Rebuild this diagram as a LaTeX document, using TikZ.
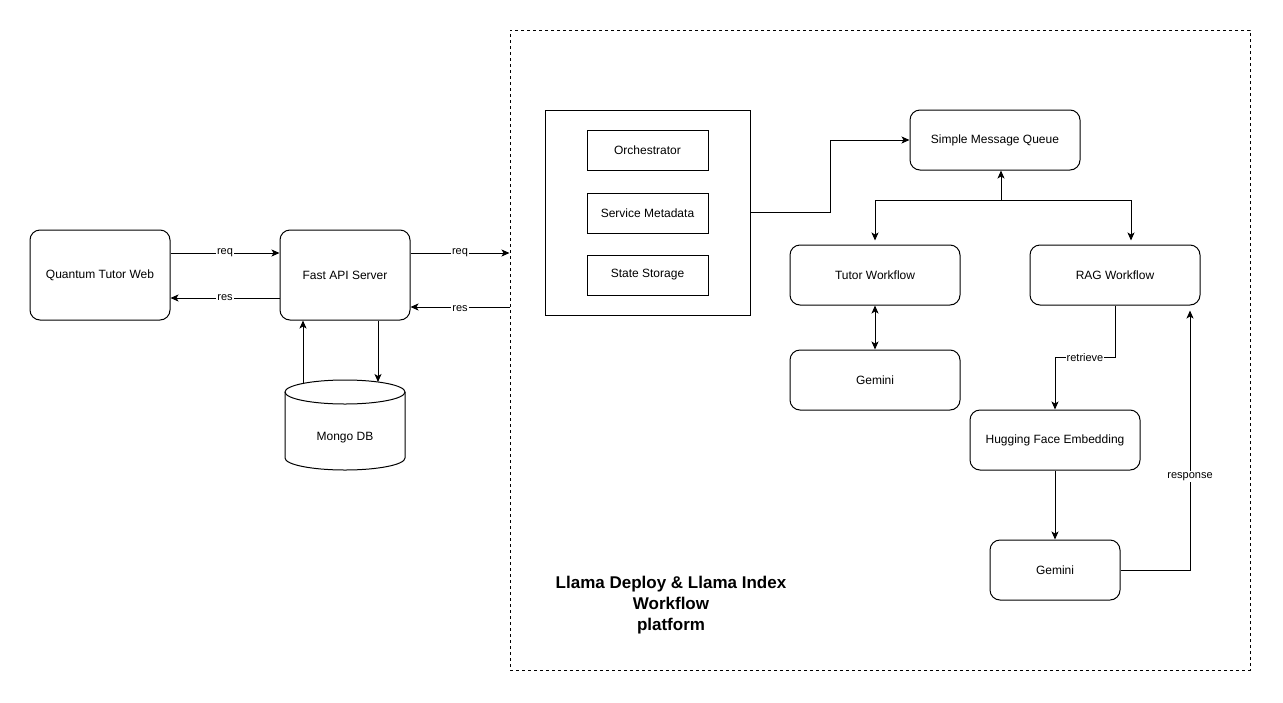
\documentclass[tikz,border=0pt]{standalone}
\usepackage{fontspec}
\setmainfont{Liberation Sans}
\usetikzlibrary{
	arrows,
	arrows.meta,
	positioning
}

\begin{document}
\begin{tikzpicture}[x=1pt, y=-1pt, >={Stealth[length=8pt, width=7pt, inset=2pt]}, line width=1pt,
    box/.style={draw, rounded corners=10pt, align=center, font=\fontsize{12}{14}\selectfont},
    plain/.style={draw, minimum width=121pt, minimum height=40pt, font=\fontsize{12}{14}\selectfont},
    lbl/.style={fill=white, inner sep=1pt, font=\fontsize{11}{13}\selectfont}]
    % Definitions
    \useasboundingbox (0,0) rectangle (1283,702);
    \def \dbx{345}
    \def \dbtop{392}
    \def \dbbottom{458}
    \def \dbrx{60}
    \def \dbry{12}
    %%%
    %%% Client side
    %%%
    \node[box, minimum width=140pt, minimum height=90pt] (web) at (100,275) {Quantum Tutor Web};
    \node[box, minimum width=130pt, minimum height=90pt] (api) at (345,275) {Fast API Server};
    \draw[->] ([yshift=22pt]web.east) -- ([yshift=22pt]api.west) node[lbl, midway] {req};
    \draw[->] ([yshift=-23pt]api.west) -- ([yshift=-23pt]web.east) node[lbl, midway] {res};
    % Mongo cylinder
    \draw (\dbx-\dbrx,\dbtop) -- (\dbx-\dbrx,\dbbottom) arc[start angle=180, end angle=0, x radius=\dbrx, y radius=\dbry] -- (\dbx+\dbrx,\dbtop);
    \draw (\dbx,\dbtop) ellipse [x radius=\dbrx, y radius=\dbry];
    \node[font=\fontsize{12}{14}\selectfont] (mongo) at (\dbx,438) {Mongo DB};
    \coordinate (dbup) at (303,384);
    \coordinate (dbdown) at (378,382);
    \draw[->] (dbup) -- (dbup |- api.south);
    \draw[->] (api.south -| dbdown) -- (dbdown);
    %%%
    %%% Llama platform
    %%%
    \node[draw, dash pattern=on 3pt off 3pt, minimum width=740pt, minimum height=640pt] (platform) at (880,350) {};
    \coordinate (reqout) at ([yshift=22pt]api.east);
    \coordinate (resin) at ([yshift=-32pt]api.east);
    \draw[->] (reqout) -- (reqout -| platform.west) node[lbl, midway] {req};
    \draw[->] (resin -| platform.west) -- (resin) node[lbl, midway, yshift=-2pt] {res};
    % Control plane
    \node[draw, minimum width=205pt, minimum height=205pt] (core) at (647.5,212.5) {};
    \foreach \name/\txt/\y in {orch/Orchestrator/150, meta/Service Metadata/213, store/State Storage/275}
    {
        \node[plain] (\name) at (647.5,\y) {\txt};
    }
    % Queue and workflows
    \node[box, minimum width=170pt, minimum height=60pt] (queue) at (995,140) {Simple Message Queue};
    \node[box, minimum width=170pt, minimum height=60pt] (tutor) at (875,275) {Tutor Workflow};
    \node[box, minimum width=170pt, minimum height=60pt] (gemtutor) at (875,380) {Gemini};
    \node[box, minimum width=170pt, minimum height=60pt] (rag) at (1115,275) {RAG Workflow};
    \node[box, minimum width=170pt, minimum height=60pt] (embed) at (1055,440) {Hugging Face Embedding};
    \node[box, minimum width=130pt, minimum height=60pt] (gemrag) at (1055,570) {Gemini};
    \coordinate (bend) at (830,212.5);
    \draw[->] (core.east) -- (bend) |- (queue.west);
    \coordinate (hub) at (1001,200);
    \draw[->] (hub) -- (hub |- queue.south);
    \draw[->] (hub) -| ([yshift=4pt]tutor.north);
    \draw[->] (hub) -| ([shift={(16pt,4pt)}]rag.north);
    \draw[<->] (tutor) -- (gemtutor);
    % RAG loop
    \draw[->] (rag.south) -- ++(0,52) -| (embed.north) node[lbl, pos=0.25] {retrieve};
    \draw[->] (embed) -- (gemrag);
    \draw[->] (gemrag.east) -| ([shift={(75pt,-5pt)}]rag.south) node[lbl, pos=0.68] {response};
    % Caption
    \node[font=\bfseries\fontsize{17}{21}\selectfont, align=center] (title) at (671,605) {Llama Deploy \& Llama Index\\Workflow\\platform};
\end{tikzpicture}
\end{document}
